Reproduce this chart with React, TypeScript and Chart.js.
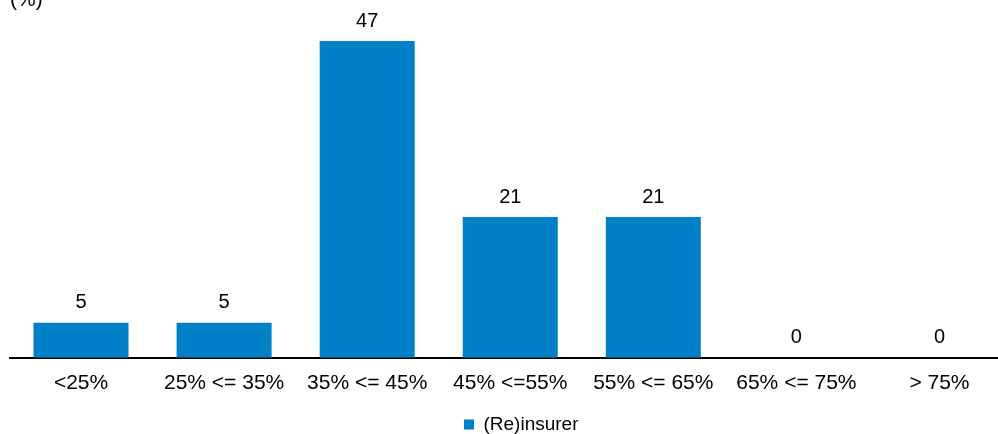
import React, { useEffect, useRef } from "react";
import { Chart, registerables } from "chart.js";

Chart.register(...registerables);

const categories = ["<25%", "25% <= 35%", "35% <= 45%", "45% <=55%", "55% <= 65%", "65% <= 75%", "> 75%"];
const reinsurerValues = [5.26, 5.26, 47.37, 21.05, 21.05, 0, 0];
const seriesName = "(Re)insurer";
const unitLabel = "(%)";

const BLUE = "#0080c6";
const FONT = "Arial, 'Liberation Sans', sans-serif";

const valueLabels = {
  id: "valueLabels",
  afterDatasetsDraw(chart: any) {
    const ctx = chart.ctx;
    const meta = chart.getDatasetMeta(0);
    ctx.save();
    ctx.font = `20px ${FONT}`;
    ctx.fillStyle = "#000";
    ctx.textAlign = "center";
    ctx.textBaseline = "middle";
    meta.data.forEach((bar: any, i: number) => {
      const v = reinsurerValues[i];
      ctx.fillText(String(Math.round(v)), bar.x, bar.y - 20);
    });
    ctx.textAlign = "left";
    ctx.textBaseline = "alphabetic";
    ctx.font = `21px ${FONT}`;
    ctx.fillText(unitLabel, 10, 6);
    ctx.restore();
  },
};

export default function App() {
  const ref = useRef<HTMLCanvasElement>(null);
  useEffect(() => {
    const chart = new Chart(ref.current as HTMLCanvasElement, {
      type: "bar",
      data: {
        labels: categories,
        datasets: [
          {
            label: seriesName,
            data: reinsurerValues,
            backgroundColor: BLUE,
            borderWidth: 0,
            categoryPercentage: 1,
            barPercentage: 0.664,
          },
        ],
      },
      options: {
        responsive: false,
        animation: false,
        layout: { padding: { left: 9.5, right: 49, top: 23.5, bottom: 0 } },
        plugins: {
          legend: {
            display: true,
            position: "bottom",
            labels: {
              boxWidth: 10,
              boxHeight: 10,
              padding: 6,
              color: "#000",
              font: { family: FONT, size: 19 },
            },
          },
          tooltip: { enabled: false },
        },
        scales: {
          x: {
            grid: { display: false, drawTicks: false },
            border: { display: true, color: "#000", width: 2 },
            ticks: { color: "#000", font: { family: FONT, size: 21 }, padding: 13, maxRotation: 0, autoSkip: false },
          },
          y: { display: false, min: 0, max: 50 },
          spacer: {
            type: "linear",
            position: "right",
            display: true,
            grid: { display: false, drawTicks: false },
            border: { display: false },
            ticks: { display: false },
            afterFit: (scale: any) => {
              scale.width = 22;
            },
          },
        },
      },
      plugins: [valueLabels],
    });
    return () => chart.destroy();
  }, []);
  return (
    <div style={{ position: "absolute", left: 0, top: 0, width: 998, height: 434, overflow: "hidden", background: "#fff" }}>
      <canvas ref={ref} width={1082} height={444} style={{ display: "block" }} />
    </div>
  );
}
